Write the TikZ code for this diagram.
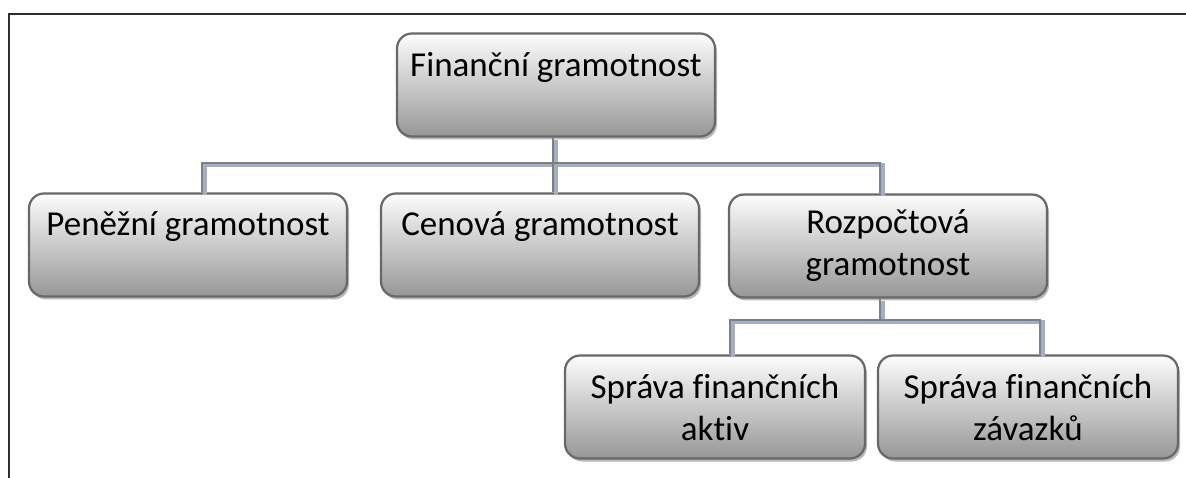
\documentclass[tikz,border=0pt]{standalone}
\usepackage{fontspec}
\setmainfont{Carlito}[Ligatures=NoCommon]
\usetikzlibrary{shadows,positioning}
\definecolor{boxline}{HTML}{686868}
\definecolor{boxtop}{HTML}{FCFCFC}
\definecolor{boxbot}{HTML}{979797}
\definecolor{linkblue}{HTML}{A3B0C4}
\definecolor{framegray}{HTML}{2E2E2E}
\begin{document}
\begin{tikzpicture}[x=1pt,y=-1pt,
    box/.style={draw=boxline, line width=2.2pt, rounded corners=15pt,
        top color=boxtop, bottom color=boxbot,
        minimum width=318pt, minimum height=103pt, align=center,
        font=\fontsize{35}{42}\selectfont,
        drop shadow={shadow xshift=2pt, shadow yshift=-3pt, fill=gray!55, opacity=1}},
    smallbox/.style={box, minimum width=300pt},
    link/.style={draw=gray, line width=1.5pt,
        preaction={draw=linkblue, line width=4pt,
            transform canvas={xshift=2.5pt, yshift=-2.5pt}}}]
    \useasboundingbox (0,0) rectangle (1186,478);
    \draw[framegray, line width=2pt] (9,478) -- (9,14) -- (1186,14);
    % boxes
    \node[box] (fin) at (556,85) {Finanční gramotnost\\~};
    \node[box] (pen) at (188,245) {Peněžní gramotnost\\~};
    \node[box] (cen) at (540,245) {Cenová gramotnost\\~};
    \node[box] (roz) at (888,246) {Rozpočtová\\gramotnost};
    \node[smallbox] (akt) at (715,407) {Správa finančních\\aktiv};
    \node[smallbox] (zav) at (1028,407) {Správa finančních\\závazků};
    % connectors
    \coordinate (bus1) at (553,163);
    \coordinate (bus2) at (880,320);
    \draw[link] ([xshift=-3pt]fin.south) -- ([xshift=-3pt]fin.south |- bus1);
    \draw[link] ([xshift=14pt]pen.north) |- (bus1) -| ([xshift=-8pt]roz.north);
    \draw[link] (bus1) -- ([xshift=13pt]cen.north);
    \draw[link] ([xshift=-8pt]roz.south) -- (bus2);
    \draw[link] ([xshift=15pt]akt.north) |- (bus2) -| ([xshift=12pt]zav.north);
\end{tikzpicture}
\end{document}
